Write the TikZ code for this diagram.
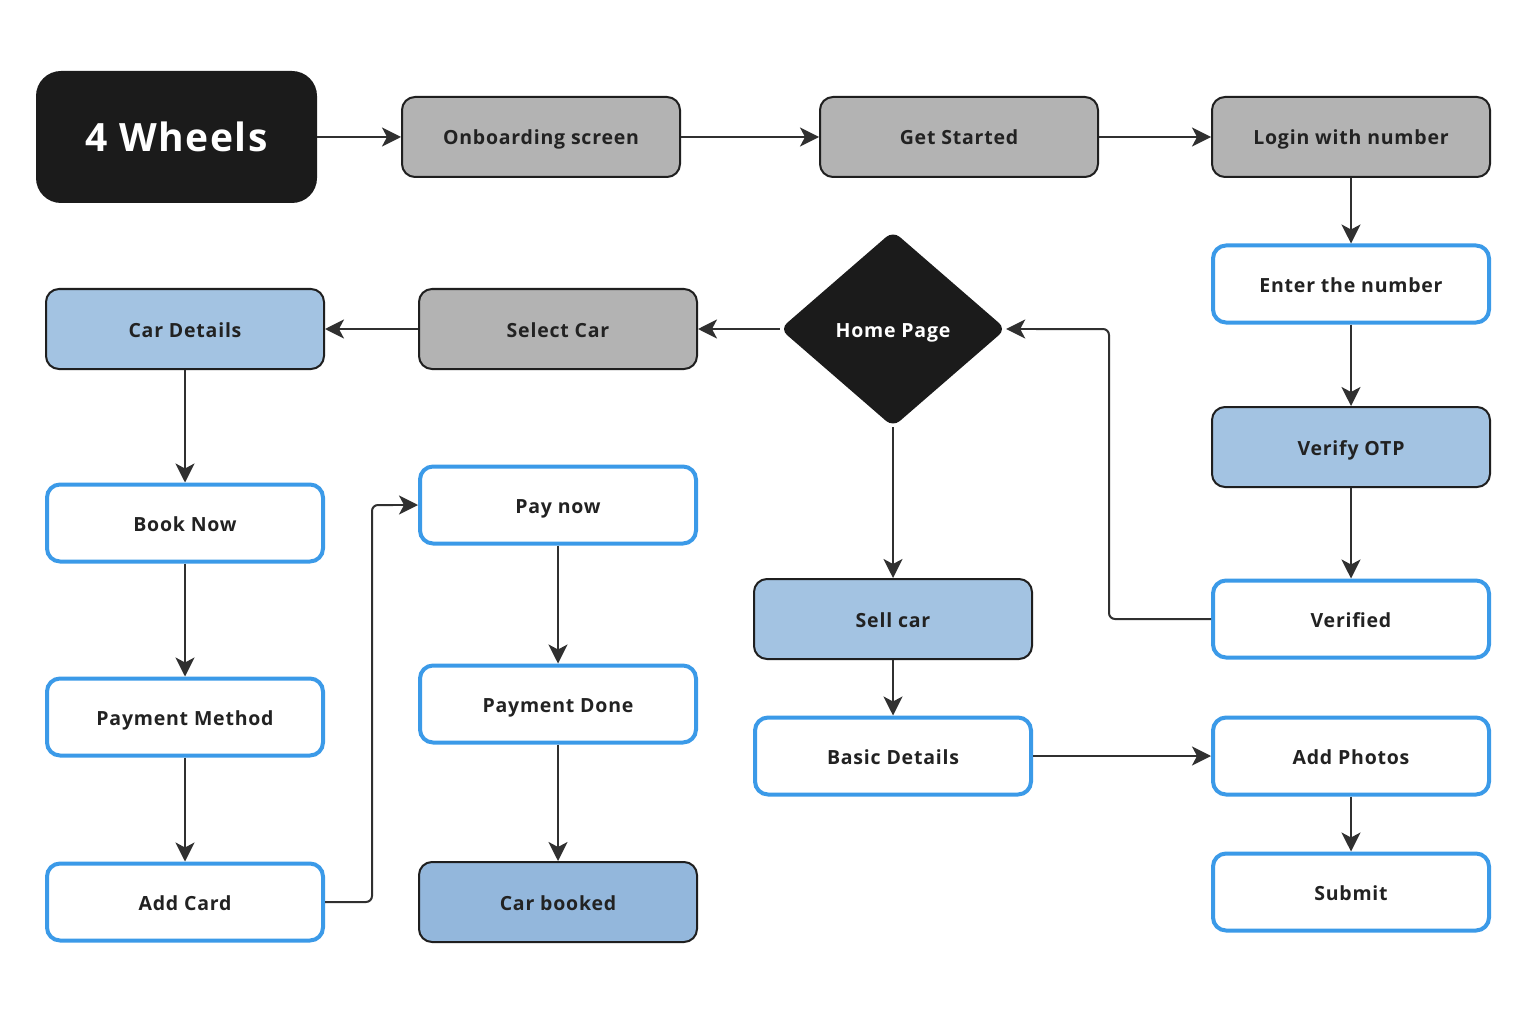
\documentclass[tikz,border=0pt]{standalone}
\usepackage{fontspec}
\setmainfont{Open Sans}
\newfontfamily\boxfont[LetterSpace=4]{Open Sans}
\usetikzlibrary{shapes.geometric,arrows.meta}
\definecolor{ink}{HTML}{1B1B1B}
\definecolor{edge}{HTML}{1F1F1F}
\definecolor{greyfill}{HTML}{B3B3B3}
\definecolor{bluefill}{HTML}{A3C3E2}
\definecolor{bluedeep}{HTML}{93B7DC}
\definecolor{blueline}{HTML}{3B9AE8}
\definecolor{linec}{HTML}{303030}
\definecolor{textdark}{HTML}{222222}
\begin{document}
\begin{tikzpicture}[x=1pt,y=-1pt,
  box/.style={rounded corners=13pt, inner sep=0pt, text height=18pt, text depth=2pt,
    font=\boxfont\fontsize{19.5}{23}\selectfont\bfseries, text=textdark},
  greybox/.style={box, fill=greyfill, draw=edge, line width=2pt,
    minimum width=278pt, minimum height=80pt},
  bluebox/.style={greybox, fill=bluefill},
  openbox/.style={box, fill=white, draw=blueline, line width=4pt,
    minimum width=276pt, minimum height=77pt},
  wire/.style={draw=linec, line width=2pt},
  flow/.style={wire, -{Stealth[length=19pt,width=19pt,inset=5pt]}},
  elbow/.style={wire, rounded corners=6pt},
]
% canvas
\path[use as bounding box, fill=white] (0,0) rectangle (1536,1016);

% title block
\node[fill=ink, rounded corners=25pt, minimum width=281pt, minimum height=132pt,
  text=white, font=\boxfont\fontsize{39}{45}\selectfont\bfseries] (title) at (176.5,137) {4 Wheels};

% onboarding row
\node[greybox] (onboard) at (541,137) {Onboarding screen};
\node[greybox] (started) at (959,137) {Get Started};
\node[greybox] (login) at (1351,137) {Login with number};

% login column
\node[openbox] (enter) at (1351,284) {Enter the number};
\node[bluebox] (otp) at (1351,447) {Verify OTP};
\node[openbox] (verified) at (1351,619) {Verified};

% home decision
\node[diamond, fill=ink, rounded corners=9pt, minimum width=226pt, minimum height=196pt,
  inner sep=0pt, text=white, text height=18pt, text depth=2pt,
  font=\boxfont\fontsize{19.5}{23}\selectfont\bfseries] (home) at (893,329) {Home Page};

% buying branch
\node[greybox] (select) at (558,329) {Select Car};
\node[bluebox] (details) at (185,329) {Car Details};
\node[openbox] (book) at (185,523) {Book Now};
\node[openbox] (method) at (185,717) {Payment Method};
\node[openbox] (card) at (185,902) {Add Card};
\node[openbox] (pay) at (558,505) {Pay now};
\node[openbox] (done) at (558,704) {Payment Done};
\node[bluebox, fill=bluedeep] (booked) at (558,902) {Car booked};

% selling branch
\node[bluebox] (sell) at (893,619) {Sell car};
\node[openbox] (basic) at (893,756) {Basic Details};
\node[openbox] (photos) at (1351,756) {Add Photos};
\node[openbox] (submit) at (1351,892) {Submit};

% connectors
\draw[flow] (title) -- (onboard);
\draw[flow] (onboard) -- (started);
\draw[flow] (started) -- (login);
\draw[flow] (login) -- (enter);
\draw[flow] (enter) -- (otp);
\draw[flow] (otp) -- (verified);
% verified back to home: rounded elbow, then a straight final run with the tip
\draw[elbow] (verified.west) -- ++(-102,0) |- ([xshift=30pt]home.east);
\draw[flow] ([xshift=30pt]home.east) -- (home.east);
\draw[flow] (home.west) -- (select.east);
\draw[flow] (select) -- (details);
\draw[flow] (details) -- (book);
\draw[flow] (book) -- (method);
\draw[flow] (method) -- (card);
% add card up to pay now
\draw[elbow] (card.east) -- ++(47,0) |- ([xshift=-25pt]pay.west);
\draw[flow] ([xshift=-25pt]pay.west) -- (pay.west);
\draw[flow] (pay) -- (done);
\draw[flow] (done) -- (booked);
\draw[flow] (home.south) -- (sell.north);
\draw[flow] (sell) -- (basic);
\draw[flow] (basic) -- (photos);
\draw[flow] (photos) -- (submit);
\end{tikzpicture}
\end{document}
